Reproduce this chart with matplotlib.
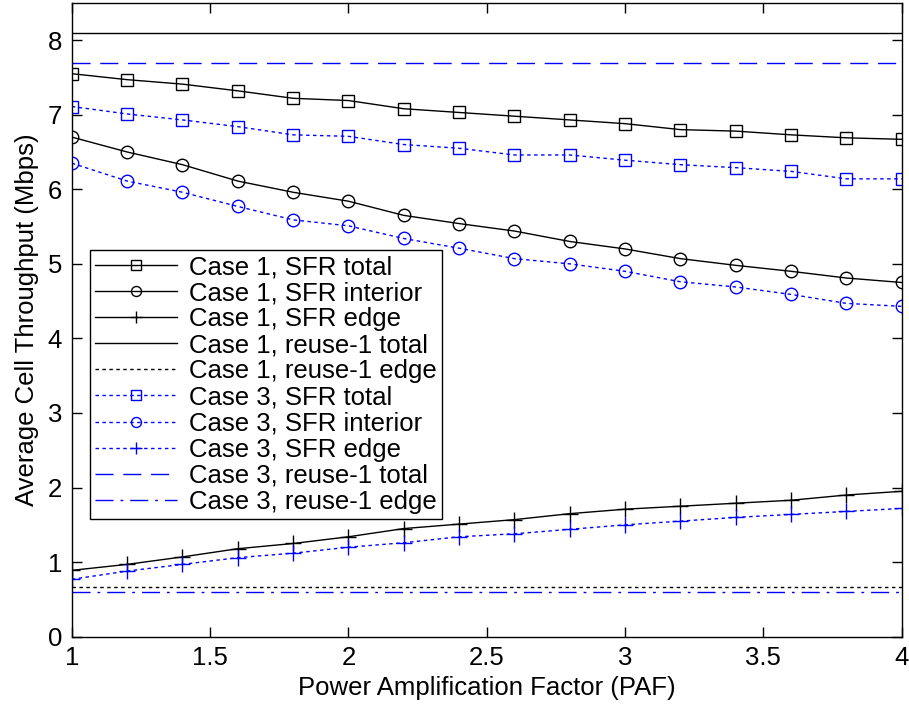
import matplotlib
matplotlib.use("Agg")
import matplotlib.pyplot as plt

plt.rcParams['font.family'] = ['Liberation Sans', 'DejaVu Sans']

paf = [1.0, 1.2, 1.4, 1.6, 1.8, 2.0, 2.2, 2.4, 2.6, 2.8, 3.0, 3.2, 3.4, 3.6, 3.8, 4.0]

c1_sfr_total = [7.55, 7.47, 7.41, 7.32, 7.22, 7.19, 7.08, 7.03, 6.98, 6.93, 6.88, 6.80, 6.78, 6.73, 6.69, 6.67]
c1_sfr_interior = [6.70, 6.50, 6.33, 6.11, 5.96, 5.84, 5.65, 5.54, 5.44, 5.30, 5.20, 5.07, 4.98, 4.90, 4.81, 4.75]
c1_sfr_edge = [0.89, 0.97, 1.07, 1.18, 1.25, 1.34, 1.45, 1.51, 1.57, 1.65, 1.71, 1.75, 1.79, 1.83, 1.90, 1.95]
c1_reuse_total = 8.10
c1_reuse_edge = 0.67

c3_sfr_total = [7.11, 7.01, 6.93, 6.84, 6.73, 6.71, 6.60, 6.55, 6.46, 6.46, 6.39, 6.33, 6.29, 6.24, 6.14, 6.14]
c3_sfr_interior = [6.35, 6.11, 5.96, 5.77, 5.59, 5.51, 5.34, 5.21, 5.07, 5.00, 4.90, 4.76, 4.69, 4.59, 4.47, 4.43]
c3_sfr_edge = [0.77, 0.88, 0.97, 1.06, 1.12, 1.20, 1.26, 1.34, 1.38, 1.44, 1.50, 1.55, 1.60, 1.64, 1.68, 1.72]
c3_reuse_total = 7.69
c3_reuse_edge = 0.60

labels = ["Case 1, SFR total", "Case 1, SFR interior", "Case 1, SFR edge",
          "Case 1, reuse-1 total", "Case 1, reuse-1 edge",
          "Case 3, SFR total", "Case 3, SFR interior", "Case 3, SFR edge",
          "Case 3, reuse-1 total", "Case 3, reuse-1 edge"]

fig = plt.figure(figsize=(9.09, 7.13), dpi=100)
ax = fig.add_axes([0.079, 0.107, 0.913, 0.889])

blue = (0, 0, 1)
dot = (0, (2.5, 2.5))
lw = 1.0
ms = 9
fs = 18.5

ax.plot(paf, c1_sfr_total, color='k', lw=lw, marker='s', ms=ms, mfc='none', mew=1.0, label=labels[0])
ax.plot(paf, c1_sfr_interior, color='k', lw=lw, marker='o', ms=ms, mfc='none', mew=1.0, label=labels[1])
ax.plot(paf, c1_sfr_edge, color='k', lw=lw, marker='+', ms=11, mew=1.0, label=labels[2])
ax.plot([paf[0], paf[-1]], [c1_reuse_total] * 2, color='k', lw=lw, label=labels[3])
ax.plot([paf[0], paf[-1]], [c1_reuse_edge] * 2, color='k', lw=lw, linestyle=dot, label=labels[4])

ax.plot(paf, c3_sfr_total, color=blue, lw=lw, linestyle=dot, marker='s', ms=ms, mfc='none', mew=1.0, label=labels[5])
ax.plot(paf, c3_sfr_interior, color=blue, lw=lw, linestyle=dot, marker='o', ms=ms, mfc='none', mew=1.0, label=labels[6])
ax.plot(paf, c3_sfr_edge, color=blue, lw=lw, linestyle=dot, marker='+', ms=11, mew=1.0, label=labels[7])
ax.plot([paf[0], paf[-1]], [c3_reuse_total] * 2, color=blue, lw=lw, linestyle=(0, (13, 7)), label=labels[8])
ax.plot([paf[0], paf[-1]], [c3_reuse_edge] * 2, color=blue, lw=lw, linestyle=(0, (13, 5, 2, 5)), label=labels[9])

ax.set_xlim(1, 4)
ax.set_ylim(0, 8.5)
ax.set_xticks([1, 1.5, 2, 2.5, 3, 3.5, 4])
ax.set_xticklabels(["1", "1.5", "2", "2.5", "3", "3.5", "4"])
ax.set_yticks(range(0, 9))
ax.tick_params(direction='in', top=True, right=True, length=7, width=1, labelsize=fs, pad=7)
for s in ax.spines.values():
    s.set_linewidth(1.0)

ax.set_xlabel("Power Amplification Factor (PAF)", fontsize=fs, labelpad=4)
ax.set_ylabel("Average Cell Throughput (Mbps)", fontsize=fs, labelpad=6)

leg = ax.legend(loc='upper left', bbox_to_anchor=(0.022, 0.61), fontsize=fs,
                frameon=True, fancybox=False, edgecolor='k', framealpha=1,
                handlelength=3.2, handletextpad=0.45, labelspacing=0.08,
                borderpad=0.2, borderaxespad=0, markerscale=0.8)
leg.get_frame().set_linewidth(1.0)

fig.savefig("out.png", dpi=100)
